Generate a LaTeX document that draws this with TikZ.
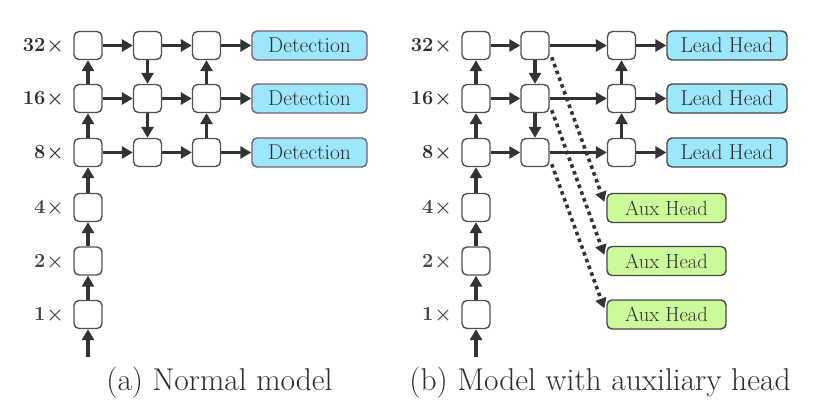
\documentclass[tikz,border=0pt]{standalone}
\usepackage{fontspec}
\usetikzlibrary{arrows.meta,calc}
\definecolor{ink}{HTML}{333333}
\definecolor{txt}{HTML}{2E2E2E}
\definecolor{cyanf}{HTML}{9DE7FD}
\definecolor{detb}{HTML}{7A5C7A}
\definecolor{greenf}{HTML}{CCFA9A}
\begin{document}
\begin{tikzpicture}[x=1pt,y=-1pt,
 blk/.style={draw=ink!85, line width=1.4pt, rounded corners=5pt, minimum width=28pt, minimum height=28pt, fill=white, inner sep=0pt},
 head/.style={line width=1.4pt, rounded corners=5pt, minimum height=29pt, inner sep=0pt, font=\fontsize{21.5}{24}\selectfont, text=txt},
 det/.style={head, draw=detb, fill=cyanf, minimum width=115pt},
 lead/.style={head, draw=ink!90, fill=cyanf, minimum width=120pt},
 aux/.style={head, draw=ink!90, fill=greenf, minimum width=119pt, font=\fontsize{20.5}{24}\selectfont},
 arr/.style={draw=ink, line width=3.4pt, -{Triangle[length=11pt,width=12pt]}},
 dotarr/.style={draw=ink, line width=3.6pt, dash pattern=on 3.6pt off 3.6pt, -{Triangle[length=10pt,width=11pt]}},
 labb/.style={anchor=east, font=\bfseries\fontsize{20}{22}\selectfont, text=txt, inner sep=0pt},
 labn/.style={anchor=east, font=\bfseries\fontsize{20}{22}\selectfont, text=txt!90, inner sep=0pt},
 captxt/.style={font=\fontsize{31.5}{34}\selectfont, text=txt, inner sep=0pt}
]
\fill[white] (0,0) rectangle (822,402);

% ---------- left panel ----------
\foreach \n/\y in {32/45.5,16/98.5,8/152.5}{
  \node[blk] (La\n) at (88,\y) {};
  \node[blk] (Lb\n) at (147.5,\y) {};
  \node[blk] (Lc\n) at (206.5,\y) {};
  \node[det] (Ld\n) at (309.5,\y) {Detection};
  \node[labb] (Ll\n) at (64,\y) {\n\kern1pt×};
}
\foreach \n/\y in {4/207.5,2/261,1/314.5}{
  \node[blk] (La\n) at (88,\y) {};
  \node[labn] (Ll\n) at (64,\y) {\n\kern1pt×};
}
\coordinate (Lin) at (88,357);
\draw[arr] (Lin) -- (La1.south);
\draw[arr] (La1.north) -- (La2.south);
\draw[arr] (La2.north) -- (La4.south);
\draw[arr] (La4.north) -- (La8.south);
\draw[arr] (La8.north) -- (La16.south);
\draw[arr] (La16.north) -- (La32.south);
\draw[arr] (Lb32.south) -- (Lb16.north);
\draw[arr] (Lb16.south) -- (Lb8.north);
\draw[arr] (Lc8.north) -- (Lc16.south);
\draw[arr] (Lc16.north) -- (Lc32.south);
\foreach \n in {32,16,8}{
  \draw[arr] (La\n.east) -- (Lb\n.west);
  \draw[arr] (Lb\n.east) -- (Lc\n.west);
  \draw[arr] (Lc\n.east) -- (Ld\n.west);
}

% ---------- right panel ----------
\foreach \n/\y in {32/45.5,16/98.5,8/152.5}{
  \node[blk] (Ra\n) at (476,\y) {};
  \node[blk] (Rb\n) at (535,\y) {};
  \node[blk] (Rc\n) at (621.5,\y) {};
  \node[lead] (Rd\n) at (727,\y) {Lead Head};
  \node[labb] (Rl\n) at (452,\y) {\n\kern1pt×};
}
\foreach \n/\y in {4/207.5,2/261,1/314.5}{
  \node[blk] (Ra\n) at (476,\y) {};
  \node[labn] (Rl\n) at (452,\y) {\n\kern1pt×};
}
\node[aux] (X1) at (666.5,208) {Aux Head};
\node[aux] (X2) at (666.5,261) {Aux Head};
\node[aux] (X3) at (666.5,314.5) {Aux Head};

\coordinate (Rin) at (476,357);
\draw[arr] (Rin) -- (Ra1.south);
\draw[arr] (Ra1.north) -- (Ra2.south);
\draw[arr] (Ra2.north) -- (Ra4.south);
\draw[arr] (Ra4.north) -- (Ra8.south);
\draw[arr] (Ra8.north) -- (Ra16.south);
\draw[arr] (Ra16.north) -- (Ra32.south);
\draw[arr] (Rb32.south) -- (Rb16.north);
\draw[arr] (Rb16.south) -- (Rb8.north);
\draw[arr] (Rc8.north) -- (Rc16.south);
\draw[arr] (Rc16.north) -- (Rc32.south);
\foreach \n in {32,16,8}{
  \draw[arr] (Ra\n.east) -- (Rb\n.west);
  \draw[arr] (Rb\n.east) -- (Rc\n.west);
  \draw[arr] (Rc\n.east) -- (Rd\n.west);
}
\draw[dotarr] ($(Rb32.south east)+(2,-3)$) -- ($(X1.north west)+(-2,9)$);
\draw[dotarr] ($(Rb16.south east)+(2,-3)$) -- ($(X2.north west)+(-2,9)$);
\draw[dotarr] ($(Rb8.south east)+(2,-3)$) -- ($(X3.north west)+(-2,9)$);

% ---------- captions ----------
\node[captxt] (capA) at (219.5,383) {(a) Normal model};
\node[captxt] (capB) at (600,383) {(b) Model with auxiliary head};
\end{tikzpicture}
\end{document}
